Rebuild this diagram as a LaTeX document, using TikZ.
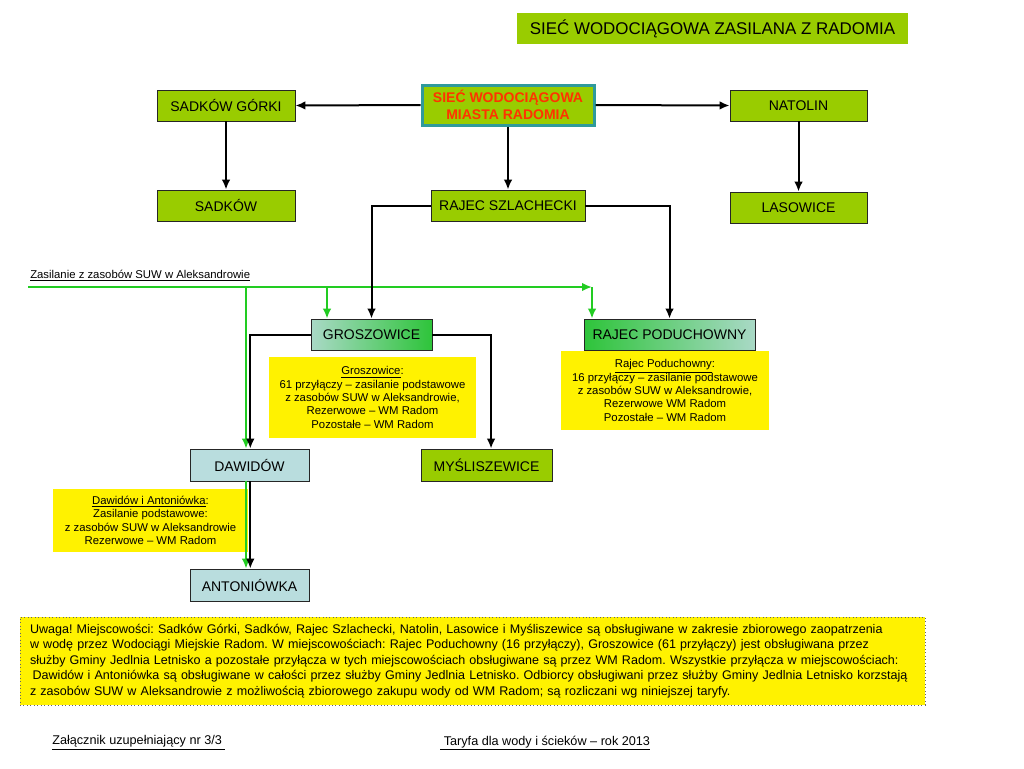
\documentclass[tikz,border=0pt]{standalone}
\usepackage{fontspec}
\setmainfont{Liberation Sans}
\usetikzlibrary{arrows.meta}

\definecolor{lime}{HTML}{99CC00}
\definecolor{paleblue}{HTML}{B9DDDE}
\definecolor{paleteal}{HTML}{A9D9C6}
\definecolor{brightgreen}{HTML}{2EC43A}
\definecolor{suwgreen}{HTML}{22CC22}
\definecolor{rimteal}{HTML}{2F9A9C}
\definecolor{redtext}{HTML}{FF3300}

\begin{document}
\frenchspacing
\begin{tikzpicture}[
		x=0.75pt, y=-0.75pt,
		every node/.style={inner sep=0pt, font=\fontsize{10.5}{12.6}\selectfont},
		place/.style={rectangle, draw=black!85, line width=0.6pt, minimum height=23.25pt},
		limebox/.style={place, fill=lime},
		bluebox/.style={place, fill=paleblue},
		notebox/.style={rectangle, fill=yellow, align=center, font=\fontsize{8.5}{10}\selectfont},
		feed/.style={line width=1.5pt, -{Latex[length=7.5pt, width=6.5pt]}},
		supply/.style={feed, draw=suwgreen, color=suwgreen}
	]
  \useasboundingbox (0,0) rectangle (1024,768);

  \node (title) [rectangle, fill=lime, minimum width=293.25pt, minimum height=23.25pt,
    font=\fontsize{12.7}{15}\selectfont] at (712.5,28.5) {SIEĆ WODOCIĄGOWA ZASILANA Z RADOMIA};

  \node (central) [rectangle, fill=lime, draw=rimteal, line width=2.25pt, minimum width=129pt,
    minimum height=30pt, align=center, text=redtext, font=\fontsize{10.5}{13}\selectfont\bfseries]
    at (508,105) {SIEĆ WODOCIĄGOWA\\MIASTA RADOMIA};
  \node (sadkow_g) [limebox, minimum width=103.5pt] at (226,105.5) {SADKÓW GÓRKI};
  \node (natolin) [limebox, minimum width=102.75pt] at (798.5,105.5) {NATOLIN};
  \node (sadkow) [limebox, minimum width=103.5pt] at (226,205.5) {SADKÓW};
  \node (rajec_s) [limebox, minimum width=115.5pt] at (508,205.5) {RAJEC SZLACHECKI};
  \node (lasowice) [limebox, minimum width=102.75pt] at (798.5,207.5) {LASOWICE};

  \node (zas_label) [anchor=west, font=\fontsize{8.5}{10}\selectfont] at (30,276)
    {\underline{Zasilanie z zasobów SUW w Aleksandrowie}};

  \node (groszowice) [place, left color=paleteal, right color=brightgreen, minimum width=90.75pt]
    at (371.5,334.5) {GROSZOWICE};
  \node (rajec_p) [place, left color=brightgreen, right color=paleteal, minimum width=128.25pt]
    at (669.5,334.5) {RAJEC PODUCHOWNY};

  \node (gro_note) [notebox, minimum width=155.25pt, minimum height=60.75pt] at (372.5,397.5)
    {\underline{Groszowice}:\\61 przyłączy – zasilanie podstawowe\\ z zasobów SUW w Aleksandrowie,\\
     Rezerwowe – WM Radom\\Pozostałe – WM Radom};
  \node (raj_note) [notebox, minimum width=156pt, minimum height=59.25pt] at (665,390.5)
    {\underline{Rajec Poduchowny}:\\16 przyłączy – zasilanie podstawowe\\ z zasobów SUW w Aleksandrowie,\\
     Rezerwowe WM Radom\\Pozostałe – WM Radom};

  \node (dawidow) [bluebox, minimum width=89.25pt, minimum height=24pt] at (249.5,465) {DAWIDÓW};
  \node (myslisz) [limebox, minimum width=98.25pt, minimum height=24pt] at (486.5,465) {MYŚLISZEWICE};
  \node (daw_note) [notebox, minimum width=146.25pt, minimum height=47.25pt] at (150.5,520.5)
    {\underline{Dawidów i Antoniówka}:\\Zasilanie podstawowe:\\z zasobów SUW w Aleksandrowie\\Rezerwowe – WM Radom};
  \node (antoniowka) [bluebox, minimum width=89.25pt, minimum height=24pt] at (249.5,585) {ANTONIÓWKA};

  \node (uwaga) [rectangle, fill=yellow, draw=black!60, dotted, line width=0.6pt, text width=663.75pt,
    inner xsep=7.5pt, minimum height=66pt, align=left, font=\fontsize{9.4}{11.6}\selectfont]
    at (472.5,661)
    {Uwaga! Miejscowości: Sadków Górki, Sadków, Rajec Szlachecki, Natolin, Lasowice i Myśliszewice są obsługiwane w zakresie zbiorowego zaopatrzenia\\
     w wodę przez Wodociągi Miejskie Radom. W miejscowościach: Rajec Poduchowny (16 przyłączy), Groszowice (61 przyłączy) jest obsługiwana przez\\
     służby Gminy Jedlnia Letnisko a pozostałe przyłącza w tych miejscowościach obsługiwane są przez WM Radom. Wszystkie przyłącza w miejscowościach:\\
     \hspace*{2pt}Dawidów i Antoniówka są obsługiwane w całości przez służby Gminy Jedlnia Letnisko. Odbiorcy obsługiwani przez służby Gminy Jedlnia Letnisko korzstają\\
     z zasobów SUW w Aleksandrowie z możliwością zbiorowego zakupu wody od WM Radom; są rozliczani wg niniejszej taryfy.};

  \node (foot_l) [anchor=west, font=\fontsize{9.5}{11}\selectfont] at (52,743)
    {\underline{Załącznik uzupełniający nr 3/3\ }};
  \node (foot_r) [anchor=west, font=\fontsize{9.5}{11}\selectfont] at (440,743)
    {\underline{\ Taryfa dla wody i ścieków – rok 2013}};

  \coordinate (zas_start) at (28,287);
  \coordinate (zas_end) at (592,287);
  \coordinate (zas_daw) at (246,287);
  \coordinate (zas_gro) at (327,287);

  \draw[supply] (zas_start) -- (zas_end);
  \draw[supply] (zas_end) -- (zas_end |- rajec_p.north);
  \draw[supply] (zas_gro) -- (zas_gro |- groszowice.north);
  \draw[supply] (zas_daw) -- (zas_daw |- dawidow.north);
  \draw[supply] (zas_daw |- dawidow.south) -- (zas_daw |- antoniowka.north);

  \draw[feed] (central.west) -- (sadkow_g.east);
  \draw[feed] (central.east) -- (natolin.west);
  \draw[feed] (sadkow_g.south) -- (sadkow.north);
  \draw[feed] (natolin.south) -- (lasowice.north);
  \draw[feed] (central.south) -- (rajec_s.north);
  \draw[feed] (rajec_s.west) -| (groszowice.north);
  \draw[feed] (rajec_s.east) -| (rajec_p.north);
  \draw[feed] (groszowice.west) -| ([xshift=0.6pt]dawidow.north);
  \draw[feed] (groszowice.east) -| ([xshift=3.4pt]myslisz.north);
  \draw[feed] ([xshift=0.6pt]dawidow.south) -- ([xshift=0.6pt]antoniowka.north);
\end{tikzpicture}
\end{document}
